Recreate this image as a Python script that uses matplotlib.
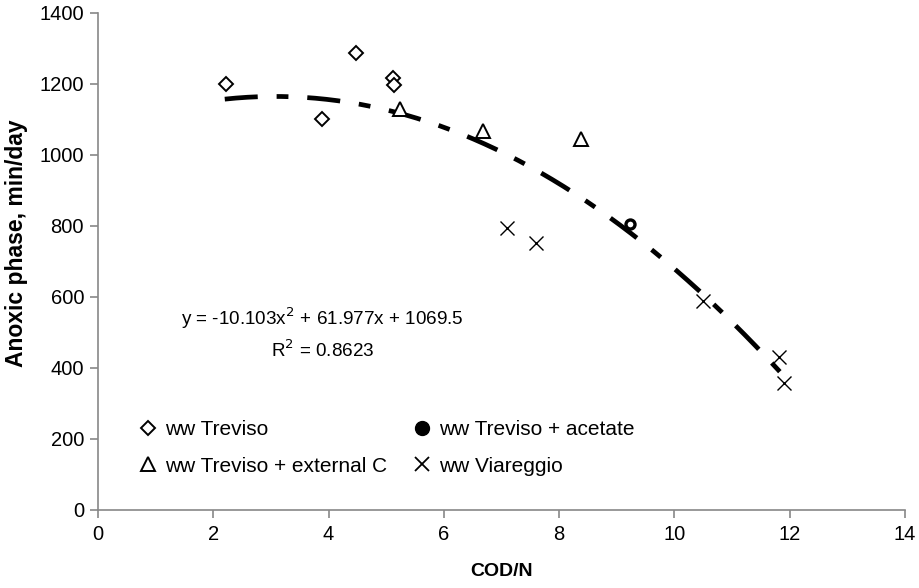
import numpy as np
import matplotlib
matplotlib.use("Agg")
import matplotlib.pyplot as plt
from matplotlib.lines import Line2D

plt.rcParams['font.family'] = ['Liberation Sans', 'DejaVu Sans']

# Data
treviso_x = [2.23, 3.88, 4.47, 5.12, 5.13]
treviso_y = [1201, 1100, 1286, 1216, 1198]
extc_x = [5.24, 6.68, 8.38]
extc_y = [1128, 1067, 1044]
acetate_x = [9.23]
acetate_y = [806]
viareggio_x = [7.10, 7.60, 10.50, 11.81, 11.91]
viareggio_y = [794, 750, 589, 429, 357]

coef = [-10.103, 61.977, 1069.5]
fit_range = [2.2, 11.95]

xticks = [0, 2, 4, 6, 8, 10, 12, 14]
yticks = [0, 200, 400, 600, 800, 1000, 1200, 1400]

fig = plt.figure(figsize=(9.2, 5.88), dpi=100)
ax = fig.add_axes([0.1065, 0.1335, 0.877, 0.8445])

xf = np.linspace(fit_range[0], fit_range[1], 200)
yf = np.polyval(coef, xf)
ax.plot(xf, yf, color='black', lw=3.4, dashes=[7, 4, 2.5, 4], zorder=2)

ms = 9.5
ax.plot(treviso_x, treviso_y, ls='none', marker='D', ms=7.5, mfc='white', mec='black', mew=1.4, zorder=3)
ax.plot(extc_x, extc_y, ls='none', marker='^', ms=ms, mfc='white', mec='black', mew=1.4, zorder=3)
ax.plot(acetate_x, acetate_y, ls='none', marker='o', ms=6.5, mfc='white', mec='black', mew=2.4, zorder=3)
ax.plot(viareggio_x, viareggio_y, ls='none', marker='x', ms=ms, color='black', mew=1.0, zorder=3)

ax.set_xlim(0, 14)
ax.set_ylim(0, 1400)
ax.set_xticks(xticks)
ax.set_yticks(yticks)
ax.tick_params(axis='both', labelsize=14.5, direction='out', length=6, color='#888888', width=1.2)
ax.tick_params(axis='x', pad=5)
ax.tick_params(axis='y', pad=4)
for s in ['top', 'right']:
    ax.spines[s].set_visible(False)
for s in ['left', 'bottom']:
    ax.spines[s].set_color('#888888')
    ax.spines[s].set_linewidth(1.2)

ax.set_xlabel('COD/N', fontsize=14, fontweight='bold', labelpad=14)
ax.set_ylabel('Anoxic phase, min/day', fontsize=16.5, fontweight='bold')
ax.yaxis.set_label_coords(-0.087, 0.537)

ax.text(3.9, 540, 'y = -10.103x$^2$ + 61.977x + 1069.5', fontsize=13.6, ha='center', va='center')
ax.text(3.9, 450, 'R$^2$ = 0.8623', fontsize=13.6, ha='center', va='center')

handles = [
    Line2D([], [], ls='none', marker='D', ms=7.5, mfc='white', mec='black', mew=1.4),
    Line2D([], [], ls='none', marker='^', ms=ms, mfc='white', mec='black', mew=1.4),
    Line2D([], [], ls='none', marker='o', ms=10, mfc='black', mec='black'),
    Line2D([], [], ls='none', marker='x', ms=ms + 1, color='black', mew=1.3),
]
labels = ['ww Treviso', 'ww Treviso + external C', 'ww Treviso + acetate', 'ww Viareggio']
ax.legend(handles, labels, ncol=2, frameon=False, fontsize=15,
          loc='upper left', bbox_to_anchor=(0.039, 0.197), handletextpad=0.3,
          handlelength=1.0, columnspacing=1.2, labelspacing=0.85, borderaxespad=0)

fig.savefig('out.png', dpi=100)
